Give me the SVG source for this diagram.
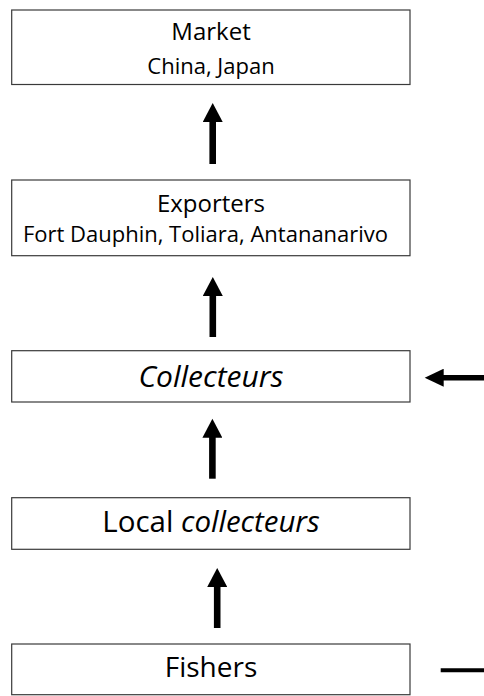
<svg xmlns="http://www.w3.org/2000/svg" width="484" height="696" viewBox="0 0 484 696">
<style>
  .box { fill: #ffffff; stroke: #3a3a3a; stroke-width: 1.2; }
  .t { font-family: "Open Sans", "Noto Sans", "Liberation Sans", sans-serif; fill: #000; text-anchor: middle; }
  .title { font-size: 24px; }
  .sub { font-size: 22px; }
  .big { font-size: 28px; }
  .big2 { font-size: 29.5px; }
  .big3 { font-size: 30px; font-style: italic; }
  .conn { stroke: #000; fill: none; }
</style>
<defs>
  <marker id="headV" markerUnits="userSpaceOnUse" viewBox="0 0 20 20" refX="1" refY="10" markerWidth="20" markerHeight="20" orient="auto">
    <path d="M0,0 L19,10 L0,20 Z" fill="#000"/>
  </marker>
  <marker id="headH" markerUnits="userSpaceOnUse" viewBox="0 0 20 18" refX="1" refY="9" markerWidth="20" markerHeight="18" orient="auto">
    <path d="M0,0 L19,9 L0,18 Z" fill="#000"/>
  </marker>
</defs>

<g id="market">
  <rect class="box" x="11.7" y="10" width="398.3" height="74.5"/>
  <text class="t title" x="211" y="40">Market</text>
  <text class="t sub" x="211" y="74">China, Japan</text>
</g>
<g id="exporters">
  <rect class="box" x="11.7" y="180" width="398.3" height="75.7"/>
  <text class="t title" x="211" y="211.5">Exporters</text>
  <text class="t sub" x="205.5" y="241.7">Fort Dauphin, Toliara, Antananarivo</text>
</g>
<g id="collecteurs">
  <rect class="box" x="11.7" y="350.7" width="398.3" height="51.3"/>
  <text class="t big3" x="211" y="386.7">Collecteurs</text>
</g>
<g id="local-collecteurs">
  <rect class="box" x="11.7" y="497.7" width="398.3" height="51.6"/>
  <text class="t big2" x="211" y="531.5">Local <tspan font-style="italic">collecteurs</tspan></text>
</g>
<g id="fishers">
  <rect class="box" x="11.7" y="644" width="398.3" height="50.7"/>
  <text class="t big" x="211" y="676.7">Fishers</text>
</g>

<g id="connectors">
  <line class="conn" x1="212.7" y1="164" x2="212.7" y2="121" stroke-width="6.6" marker-end="url(#headV)"/>
  <line class="conn" x1="212.8" y1="337" x2="212.8" y2="295" stroke-width="6.6" marker-end="url(#headV)"/>
  <line class="conn" x1="212.4" y1="478.7" x2="212.4" y2="436.7" stroke-width="6.6" marker-end="url(#headV)"/>
  <line class="conn" x1="217.2" y1="628" x2="217.2" y2="586" stroke-width="6.6" marker-end="url(#headV)"/>
  <line class="conn" x1="484" y1="377.7" x2="442.7" y2="377.7" stroke-width="5.6" marker-end="url(#headH)"/>
  <line class="conn" x1="440.7" y1="670.3" x2="484" y2="670.3" stroke-width="4"/>
</g>
</svg>
